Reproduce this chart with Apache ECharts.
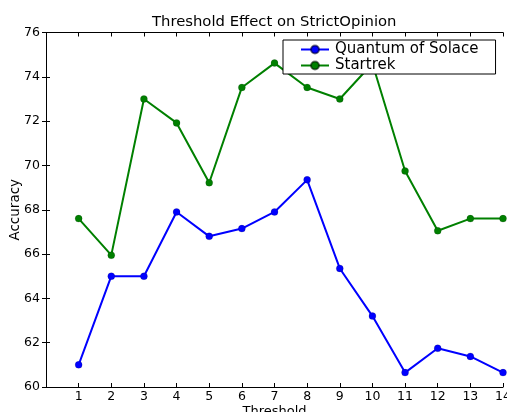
<!DOCTYPE html>
<html>
<head>
<meta charset="utf-8">
<script src="https://cdn.jsdelivr.net/npm/echarts@6/dist/echarts.min.js"></script>
<style>
  html, body { margin: 0; padding: 0; background: #fff; }
  #chart { width: 507px; height: 412px; }
</style>
</head>
<body>
<div id="chart"></div>
<script>
// chart data
const thresholds = [1, 2, 3, 4, 5, 6, 7, 8, 9, 10, 11, 12, 13, 14];
const quantumAcc = [61.0, 65.0, 65.0, 67.9, 66.8, 67.15, 67.9, 69.35, 65.35, 63.2, 60.65, 61.75, 61.38, 60.65];
const startrekAcc = [67.6, 65.95, 73.0, 71.92, 69.22, 73.52, 74.62, 73.52, 73.0, 74.6, 69.75, 67.05, 67.6, 67.6];
const seriesNames = ['Quantum of Solace', 'Startrek'];

const font = 'DejaVu Sans';
const toPairs = vals => thresholds.map((t, i) => [t, vals[i]]);

const axisCommon = {
  axisLine: { show: true, lineStyle: { color: '#000', width: 1 } },
  axisTick: { show: true, inside: true, length: 4, lineStyle: { color: '#000' } },
  splitLine: { show: false },
};

const chart = echarts.init(document.getElementById('chart'));

const makeSeries = (name, vals, color) => ({
  name,
  type: 'line',
  data: toPairs(vals),
  symbol: 'circle',
  symbolSize: 7,
  showAllSymbol: true,
  lineStyle: { color, width: 2 },
  itemStyle: { color, borderColor: 'rgba(0,0,0,0.5)', borderWidth: 0.3 },
  emphasis: { disabled: true },
  animation: false,
  clip: false,
});

chart.setOption({
  backgroundColor: '#fff',
  animation: false,
  title: {
    text: 'Threshold Effect on StrictOpinion',
    left: 147,
    top: 10,
    textStyle: { fontFamily: font, fontSize: 14.8, fontWeight: 'normal', color: '#000' },
  },
  legend: {
    data: seriesNames,
    orient: 'vertical',
    left: 283,
    top: 40,
    padding: [2, 17, 1, 17],
    itemGap: 1,
    itemWidth: 28,
    itemHeight: 10,
    borderColor: '#000',
    borderWidth: 1,
    backgroundColor: '#fff',
    textStyle: { fontFamily: font, fontSize: 15, color: '#000', padding: [0, 0, 0, 1] },
  },
  grid: { left: 46, right: 4, top: 32.5, bottom: 25, containLabel: false, outerBoundsMode: 'none' },
  xAxis: [
    {
      ...axisCommon,
      type: 'value',
      min: 0,
      max: 14,
      interval: 1,
      name: 'Threshold',
      nameLocation: 'middle',
      nameGap: 18,
      nameMoveOverlap: false,
      nameTextStyle: { fontFamily: font, fontSize: 13, color: '#000' },
      axisLabel: {
        fontFamily: font,
        fontSize: 12.5,
        color: '#000',
        margin: 3,
        formatter: v => (v === 0 ? '' : v),
      },
    },
    {
      ...axisCommon,
      type: 'value',
      position: 'top',
      min: 0,
      max: 14,
      interval: 1,
      axisLabel: { show: false },
    },
  ],
  yAxis: [
    {
      ...axisCommon,
      type: 'value',
      min: 60,
      max: 76,
      interval: 2,
      name: 'Accuracy',
      nameLocation: 'middle',
      nameGap: 24,
      nameMoveOverlap: false,
      nameTextStyle: { fontFamily: font, fontSize: 13.5, color: '#000' },
      axisLabel: { fontFamily: font, fontSize: 12.5, color: '#000', margin: 6 },
    },
    {
      ...axisCommon,
      type: 'value',
      position: 'right',
      min: 60,
      max: 76,
      interval: 2,
      axisLabel: { show: false },
    },
  ],
  series: [
    makeSeries(seriesNames[0], quantumAcc, '#0000ff'),
    makeSeries(seriesNames[1], startrekAcc, '#008000'),
  ],
});
</script>
</body>
</html>
